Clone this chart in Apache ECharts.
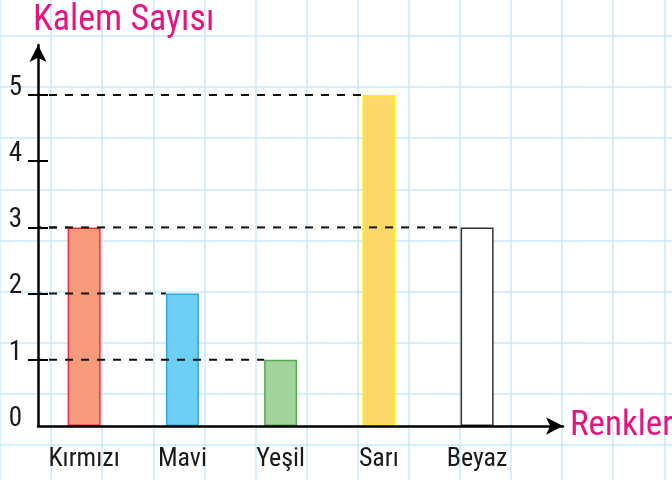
<!DOCTYPE html>
<html>
<head>
<meta charset="utf-8">
<script src="https://cdn.jsdelivr.net/npm/echarts@6/dist/echarts.min.js"></script>
<style>
  html, body { margin: 0; padding: 0; background: #fff; }
  #chart { width: 672px; height: 480px; }
</style>
</head>
<body>
<div id="chart"></div>
<script>
const categories = ["Kırmızı", "Mavi", "Yeşil", "Sarı", "Beyaz"];
const counts = [3, 2, 1, 5, 3];
const yTickValues = [1, 2, 3, 4, 5];

const fills = ["#f79a7b", "#6dcff6", "#a3d39c", "#ffd86b", "#ffffff"];
const borders = ["#ee2d3a", "#27aae1", "#55a84c", "#fff200", "#333333"];

const FONT = '"Liberation Sans Narrow", "Roboto Condensed", Roboto, sans-serif';
const PINK = "#e6147e";
const BAR_W = 33;
const CELL = 51.1;

const chart = echarts.init(document.getElementById("chart"));

const option = {
    backgroundColor: "#ffffff",
    animation: false,
    title: {
        text: "Kalem Sayısı",
        left: 28,
        top: -2,
        textStyle: { color: PINK, fontSize: 36, fontWeight: "normal", fontFamily: FONT }
    },
    grid: [
        // bars
        { left: 35, top: 95, width: 5 * 98.25, bottom: 54, outerBoundsMode: "none" },
        // axis arrows
        { left: 38, top: 45, right: 109, bottom: 54, outerBoundsMode: "none" },
        // squared paper background
        { left: 0, top: 36 - CELL, width: CELL * 14, height: CELL * 10, outerBoundsMode: "none" }
    ],
    xAxis: [{
        gridIndex: 0,
        type: "category",
        data: categories,
        axisLine: { show: false },
        axisTick: { show: false },
        axisLabel: { color: "#1a1a1a", fontSize: 26, fontFamily: FONT, margin: 20 },
        splitLine: { show: false }
    }, {
        gridIndex: 1,
        type: "value",
        min: 0,
        max: 1,
        z: 10,
        name: "Renkler",
        nameLocation: "end",
        nameGap: 7,
        nameTextStyle: { color: PINK, fontSize: 35, fontFamily: FONT, verticalAlign: "middle" },
        axisLine: {
            show: true,
            symbol: ["none", "arrow"],
            symbolSize: [13, 17],
            lineStyle: { color: "#000", width: 2.5 }
        },
        axisTick: { show: false },
        axisLabel: { show: false },
        splitLine: { show: false }
    }, {
        gridIndex: 2,
        type: "value",
        min: 0,
        max: 14,
        interval: 1,
        z: 0,
        axisLine: { show: false },
        axisTick: { show: false },
        axisLabel: { show: false },
        splitLine: { show: true, lineStyle: { color: "#cbe9f8", width: 1.5 } }
    }],
    yAxis: [{
        gridIndex: 0,
        type: "value",
        position: "left",
        offset: -3,
        min: 0,
        max: 5,
        interval: 1,
        axisLine: { show: false },
        axisTick: {
            show: true,
            length: 10,
            customValues: yTickValues,
            lineStyle: { color: "#000", width: 2 }
        },
        axisLabel: {
            color: "#1a1a1a",
            fontSize: 27,
            fontFamily: FONT,
            margin: 16,
            verticalAlign: "bottom",
            lineHeight: 14
        },
        splitLine: { show: false }
    }, {
        gridIndex: 0,
        type: "value",
        position: "left",
        offset: -3,
        min: 0,
        max: 5,
        interval: 1,
        axisLine: { show: false },
        axisTick: {
            show: true,
            inside: true,
            length: 10,
            customValues: yTickValues,
            lineStyle: { color: "#000", width: 2 }
        },
        axisLabel: { show: false },
        splitLine: { show: false }
    }, {
        gridIndex: 1,
        type: "value",
        min: 0,
        max: 1,
        z: 10,
        axisLine: {
            show: true,
            symbol: ["none", "arrow"],
            symbolSize: [13, 17],
            lineStyle: { color: "#000", width: 2.5 }
        },
        axisTick: { show: false },
        axisLabel: { show: false },
        splitLine: { show: false }
    }, {
        gridIndex: 2,
        type: "value",
        inverse: true,
        min: 0,
        max: 10,
        interval: 1,
        z: 0,
        axisLine: { show: false },
        axisTick: { show: false },
        axisLabel: { show: false },
        splitLine: { show: true, lineStyle: { color: "#cbe9f8", width: 1.5 } }
    }],
    series: [{
        type: "bar",
        xAxisIndex: 0,
        yAxisIndex: 0,
        barWidth: BAR_W,
        z: 3,
        data: counts.map((v, i) => ({
            value: v,
            itemStyle: { color: fills[i], borderColor: borders[i], borderWidth: 1.5 }
        }))
    }, {
        // dashed guides from the y axis to each bar
        type: "custom",
        xAxisIndex: 0,
        yAxisIndex: 0,
        z: 5,
        data: counts.map((v, i) => [i, v]),
        encode: { x: 0, y: 1 },
        renderItem: (params, api) => {
            const pt = api.coord([api.value(0), api.value(1)]);
            const x0 = params.coordSys.x + 3;
            return {
                type: "line",
                shape: { x1: x0, y1: pt[1], x2: pt[0] - BAR_W / 2, y2: pt[1] },
                style: { stroke: "#111", lineWidth: 2, lineDash: [8, 8], lineDashOffset: 5 }
            };
        }
    }]
};

chart.setOption(option);
</script>
</body>
</html>
